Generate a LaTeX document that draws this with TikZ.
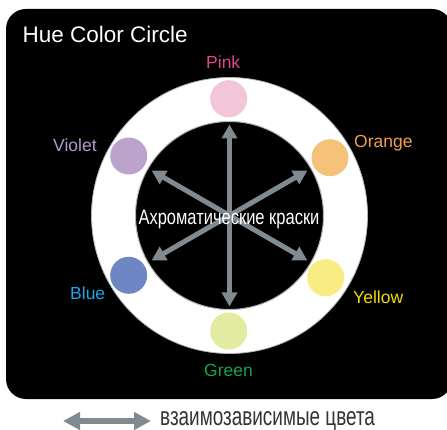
\documentclass[tikz,border=0pt]{standalone}
\usepackage{fontspec}
\setmainfont{Liberation Sans}
\newfontfamily\condfont[FakeStretch=0.785]{Liberation Sans}
\newfontfamily\legfont[FakeStretch=0.728]{Liberation Sans}
\usetikzlibrary{arrows.meta,calc}
\definecolor{arrgray}{HTML}{7F8A91}
\definecolor{cpink}{HTML}{F2C6D8}
\definecolor{cviolet}{HTML}{BBA3CC}
\definecolor{corange}{HTML}{F5C27A}
\definecolor{cblue}{HTML}{6E86C4}
\definecolor{cyellow}{HTML}{F8EC82}
\definecolor{cgreen}{HTML}{E3EBA0}
\definecolor{tpink}{HTML}{E0458F}
\definecolor{tviolet}{HTML}{B59BD0}
\definecolor{torange}{HTML}{F0A04B}
\definecolor{tblue}{HTML}{1EA5E6}
\definecolor{tyellow}{HTML}{F2DA00}
\definecolor{tgreen}{HTML}{16A34A}
\definecolor{legtext}{HTML}{333333}
\tikzset{
  dot/.style={circle, fill=#1, minimum size=37pt, inner sep=0pt},
  lbl/.style={text=#1, font=\fontsize{17.5}{20}\selectfont, inner sep=0pt, anchor=base west},
  duo/.style={draw=arrgray, line width=5pt,
    {Triangle[width=15pt,length=14pt]}-{Triangle[width=15pt,length=14pt]}}
}
\begin{document}
\begin{tikzpicture}[x=1pt,y=-1pt]
\useasboundingbox (0,0) rectangle (447,430);
\fill[black, rounded corners=20pt] (6,9) rectangle (452,399);
\node[inner sep=0pt, anchor=base west, text=white, font=\fontsize{22.5}{26}\selectfont] (title) at (22.5,43) {Hue Color Circle};
\coordinate (c) at (229.5,215.5);
\filldraw[fill=white, draw=gray!60, line width=0.8pt] (c) circle (138pt);
\filldraw[fill=black, draw=gray!60, line width=1pt] (c) circle (94pt);
% colour dots
\node[dot=cpink]   (pink)   at (228.7,98.7) {};
\node[dot=cviolet] (violet) at (128.7,156) {};
\node[dot=corange] (orange) at (330,157.7) {};
\node[dot=cblue]   (blue)   at (128.7,275.3) {};
\node[dot=cyellow] (yellow) at (325.7,277.7) {};
\node[dot=cgreen]  (green)  at (228.7,331) {};
% labels
\node[lbl=tpink]   (lpink)   at (206,69) {Pink};
\node[lbl=tviolet] (lviolet) at (53,152) {Violet};
\node[lbl=torange] (lorange) at (354,148) {Orange};
\node[lbl=tblue]   (lblue)   at (70,299) {Blue};
\node[lbl=tyellow] (lyellow) at (353,303) {Yellow};
\node[lbl=tgreen]  (lgreen)  at (204,376) {Green};
% arrows
\coordinate (a90)  at ($(c)+(90:91pt)$);
\coordinate (a270) at ($(c)+(270:91pt)$);
\coordinate (a30)  at ($(c)+(30:90pt)$);
\coordinate (a210) at ($(c)+(210:90pt)$);
\coordinate (a150) at ($(c)+(150:90pt)$);
\coordinate (a330) at ($(c)+(330:90pt)$);
\draw[duo] (a90) -- (a270);
\draw[duo] (a30) -- (a210);
\draw[duo] (a150) -- (a330);
\node[inner sep=0pt, anchor=base, text=white, font=\condfont\fontsize{21}{23}\selectfont] (achro) at (229,225) {Ахроматические краски};
% legend
\coordinate (l1) at (63,421);
\coordinate (l2) at (151,421);
\draw[draw=arrgray, line width=6pt, {Triangle[width=17pt,length=17pt]}-{Triangle[width=17pt,length=17pt]}] (l1) -- (l2);
\node[inner sep=0pt, anchor=base west, text=legtext, font=\legfont\fontsize{26}{30}\selectfont] (leg) at (160,425.5) {взаимозависимые цвета};
\end{tikzpicture}
\end{document}
